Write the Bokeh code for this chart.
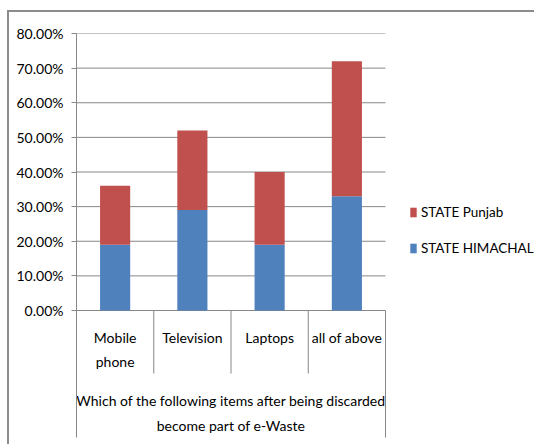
from bokeh.plotting import figure
from bokeh.models import (Range1d, FixedTicker, NumeralTickFormatter, Legend,
                          LegendItem, ColumnDataSource)
from bokeh.core.properties import value
from bokeh.embed import file_html
from bokeh.resources import INLINE

# ---- data -------------------------------------------------------------
categories = ["Mobile\nphone", "Television", "Laptops", "all of above"]
himachal = [0.19, 0.29, 0.19, 0.33]
punjab = [0.17, 0.23, 0.21, 0.39]
series_names = ["STATE HIMACHAL", "STATE Punjab"]
series_colors = ["#4F81BD", "#C0504D"]
y_ticks = [0.0, 0.1, 0.2, 0.3, 0.4, 0.5, 0.6, 0.7, 0.8]
x_title = ["Which of the following items after being discarded",
           "become part of e-Waste"]

FONT = "Lato"
FS = "14px"
GRID = "#878787"
BORDER = "#8c8c8c"

# ---- geometry (page pixels) -------------------------------------------
W, H = 536, 446
off_x, off_y = 9, 12                 # chart area starts inside its border
left, top = 76, 33                   # plot origin on the page
plot_w, plot_h = 309, 277            # category area width, 0..80% height
cw, ch = W - off_x, H - off_y
px_per_x = plot_w / len(categories)
px_per_y = plot_h / y_ticks[-1]
y_lo = -(H - top - plot_h) / px_per_y
x_hi = (W - left) / px_per_x

p = figure(width=cw, height=ch, output_backend="svg", toolbar_location=None,
           x_axis_location=None, min_border_left=left - off_x,
           min_border_right=0, min_border_top=top - off_y, min_border_bottom=0,
           x_range=Range1d(0, x_hi), y_range=Range1d(y_lo, y_ticks[-1]))
p.styles = {"position": "absolute", "left": f"{off_x - 2}px",
            "top": f"{off_y - 2}px",
            "border-left": f"2px solid {BORDER}",
            "border-top": f"2px solid {BORDER}"}
p.outline_line_color = None
p.grid.visible = False
p.background_fill_color = "white"
p.border_fill_color = "white"

# y axis
ax = p.yaxis[0]
ax.ticker = FixedTicker(ticks=y_ticks)
ax.formatter = NumeralTickFormatter(format="0.00%")
ax.bounds = (-(437 - top - plot_h) / px_per_y, y_ticks[-1])
ax.axis_line_color = GRID
ax.major_tick_line_color = GRID
ax.major_tick_in = 0
ax.major_tick_out = 5
ax.minor_tick_line_color = None
ax.major_label_standoff = 8
ax.major_label_text_font = FONT
ax.major_label_text_font_size = FS
ax.major_label_text_color = "black"

# horizontal gridlines across the category area
n = len(categories)
p.segment(x0=[0] * len(y_ticks), x1=[n] * len(y_ticks), y0=y_ticks, y1=y_ticks,
          line_color=GRID, line_width=1)

# category separators below the axis
sep_short = -(373 - top - plot_h) / px_per_y
sep_long = -(437 - top - plot_h) / px_per_y
seps = list(range(1, n + 1))
p.segment(x0=seps, x1=seps, y0=[0] * n,
          y1=[sep_short] * (n - 1) + [sep_long], line_color=GRID, line_width=1)

# stacked bars
src = ColumnDataSource(dict(x=[i + 0.5 for i in range(n)],
                            himachal=himachal, punjab=punjab))
rs = p.vbar_stack(["himachal", "punjab"], x="x", width=0.39, source=src,
                  color=series_colors, line_color=None)

# category labels
lx, ly, lt, loff = [], [], [], []
for i, c in enumerate(categories):
    for k, line in enumerate(c.split("\n")):
        lx.append(i + 0.5)
        ly.append(0)
        lt.append(line)
        loff.append(27 + 23.5 * k)
p.text(x=lx, y=ly, text=lt, y_offset=loff, text_align="center",
       text_baseline="middle", text_font=value(FONT), text_font_size=FS,
       text_color="black")

# axis title
p.text(x=[n / 2] * len(x_title), y=[0] * len(x_title), text=x_title,
       y_offset=[90 + 25 * k for k in range(len(x_title))],
       text_align="center", text_baseline="middle", text_font=value(FONT),
       text_font_size=FS, text_color="black")

# legend (Punjab listed first)
legend = Legend(items=[LegendItem(label=series_names[1], renderers=[rs[1]]),
                       LegendItem(label=series_names[0], renderers=[rs[0]])],
                location=(333, 190))
legend.padding = 0
legend.margin = 0
legend.spacing = 20
legend.glyph_width = 8
legend.glyph_height = 12
legend.label_height = 12
legend.label_standoff = 4
legend.label_text_font = FONT
legend.label_text_font_size = "13.5px"
legend.label_text_color = "black"
legend.border_line_color = None
legend.background_fill_alpha = 0
p.add_layout(legend)

open("out.html", "w").write(file_html(p, INLINE))
